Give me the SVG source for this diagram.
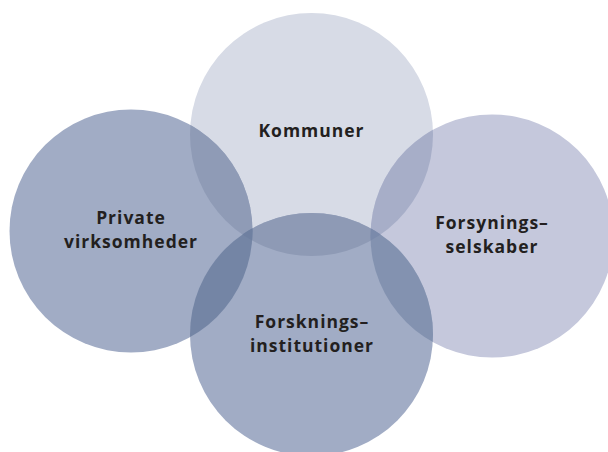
<svg xmlns="http://www.w3.org/2000/svg" width="608" height="452" viewBox="0 0 608 452">
  <style>
    .lbl { font-family: "Open Sans", "DejaVu Sans", sans-serif; font-weight: 700; font-size: 17.5px; letter-spacing: 1px; fill: #231f20; text-anchor: middle; }
  </style>
  <defs>
    <circle id="cK" cx="311.5" cy="134.5" r="121.5"/>
    <circle id="cP" cx="131" cy="231" r="121.5"/>
    <circle id="cY" cx="492" cy="236" r="121.5"/>
    <circle id="cF" cx="311.5" cy="334.5" r="121.5"/>
    <clipPath id="clipK"><use href="#cK"/></clipPath>
    <clipPath id="clipP"><use href="#cP"/></clipPath>
    <clipPath id="clipY"><use href="#cY"/></clipPath>
    <clipPath id="clipF"><use href="#cF"/></clipPath>
  </defs>
  <rect width="608" height="452" fill="#ffffff"/>

  <!-- base circles -->
  <g id="kommuner"><use href="#cK" fill="#d7dbe6"/></g>
  <g id="private"><use href="#cP" fill="#a1acc5"/></g>
  <g id="forsyning"><use href="#cY" fill="#c5c8dc"/></g>
  <g id="forskning"><use href="#cF" fill="#a1acc5"/></g>

  <!-- overlaps -->
  <g id="overlaps">
    <use href="#cP" fill="#8f9bb6" clip-path="url(#clipK)"/>
    <use href="#cY" fill="#a7aec8" clip-path="url(#clipK)"/>
    <use href="#cF" fill="#8e9ab5" clip-path="url(#clipK)"/>
    <use href="#cF" fill="#7485a5" clip-path="url(#clipP)"/>
    <use href="#cF" fill="#8392b0" clip-path="url(#clipY)"/>
    <g clip-path="url(#clipK)">
      <use href="#cF" fill="#6f80a1" clip-path="url(#clipP)"/>
      <use href="#cF" fill="#7a8aab" clip-path="url(#clipY)"/>
    </g>
  </g>

  <!-- labels -->
  <text class="lbl" x="311.5" y="137">Kommuner</text>
  <text class="lbl" x="131" y="224">Private</text>
  <text class="lbl" x="131" y="248">virksomheder</text>
  <text class="lbl" x="492" y="229">Forsynings–</text>
  <text class="lbl" x="492" y="253">selskaber</text>
  <text class="lbl" x="312" y="328">Forsknings–</text>
  <text class="lbl" x="312" y="352">institutioner</text>
</svg>
